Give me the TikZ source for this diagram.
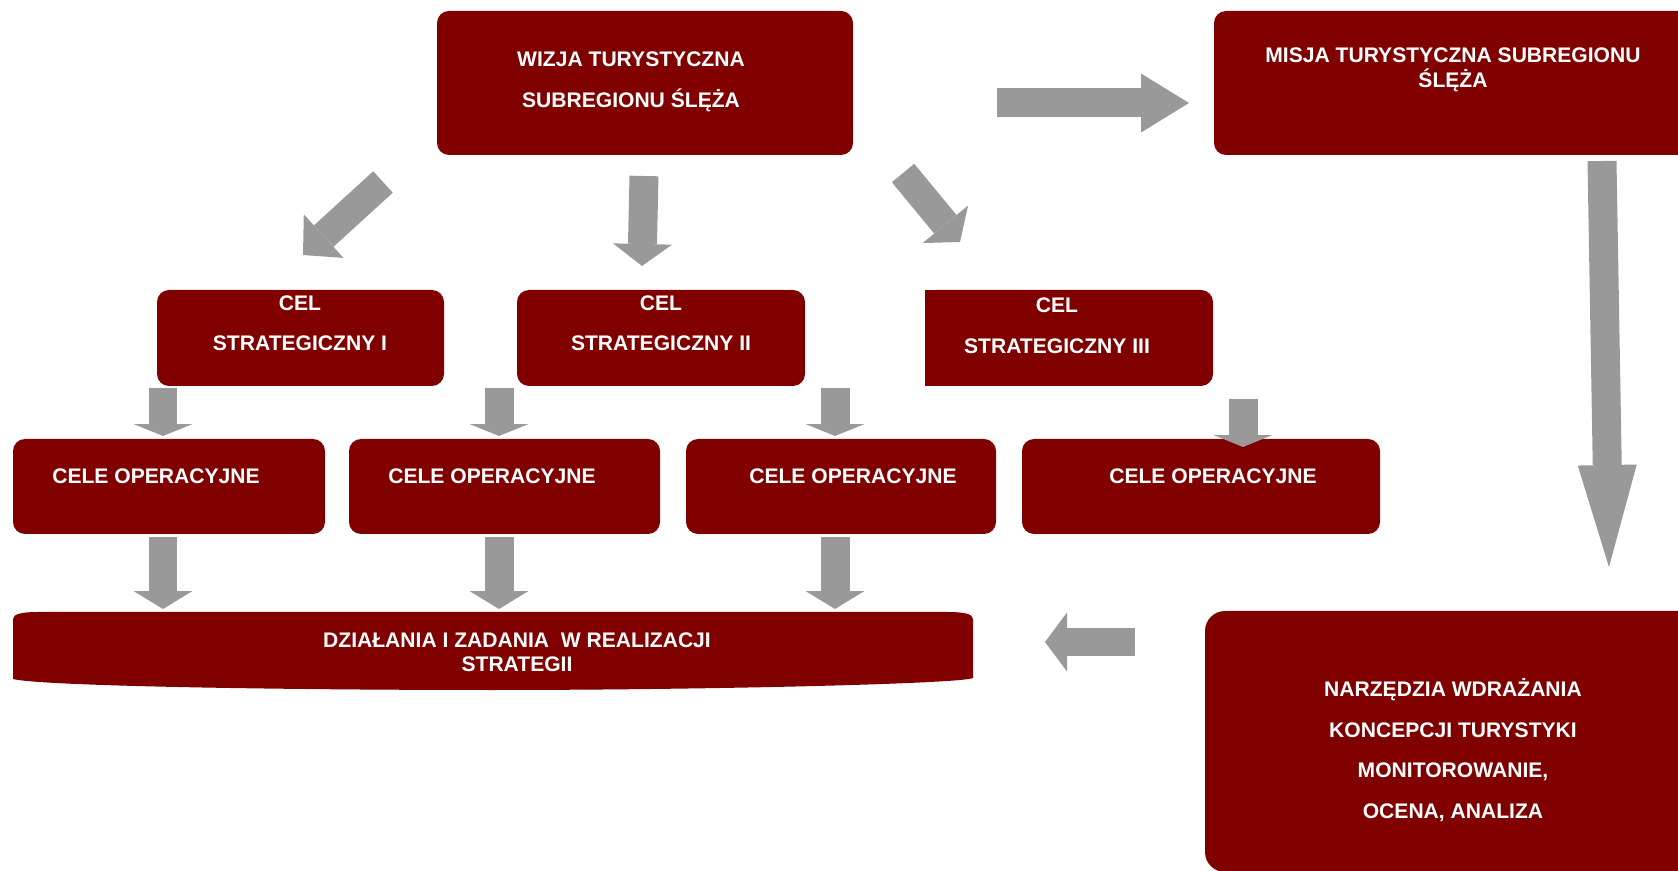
\documentclass[tikz,border=0pt]{standalone}
\usepackage{fontspec}
\setmainfont{Liberation Sans}
\usetikzlibrary{arrows.meta}
\definecolor{boxred}{HTML}{800000}
\definecolor{arrowgray}{HTML}{999999}
\begin{document}
\begin{tikzpicture}[x=0.02cm, y=-0.02cm,
  box/.style={fill=boxred, rounded corners=0.24cm},
  txt/.style={text=white, font=\bfseries\fontsize{12}{#1}\selectfont, align=center, inner sep=0pt},
  txt/.default=14pt,
  blk/.style={arrowgray, line width=0.58cm, -{Triangle[length=#1, width=1.18cm, line width=0pt]}}]
\useasboundingbox (0,0) rectangle (1678,871);
% boxes
\fill[box] (437,11) rectangle (853,155);
\fill[box] (1214,11) rectangle (1720,155);
\fill[box] (157,290) rectangle (444,386);
\fill[box] (517,290) rectangle (805,386);
\fill[box] (925,290) rectangle (1213,386);
\fill[boxred] (925,290) rectangle (1000,386);
\fill[box] (13,439) rectangle (325,534);
\fill[box] (349,439) rectangle (660,534);
\fill[box] (686,439) rectangle (996,534);
\fill[box] (1022,439) rectangle (1380,534);
\fill[boxred] (13,679) -- (13,619) .. controls (13,614) and (22,612) .. (38,612) -- (948,612)
  .. controls (964,612) and (973,614) .. (973,619) -- (973,678)
  .. controls (960,684) and (700,690) .. (493,690) .. controls (280,690) and (40,686) .. (13,679) -- cycle;
\fill[box, rounded corners=0.4cm] (1205,611) rectangle (1720,872);
% texts
\node[txt=23.2pt] (wizja) at (631,82) {WIZJA TURYSTYCZNA\\SUBREGIONU ŚLĘŻA};
\node[txt] (misja) at (1453,70) {MISJA TURYSTYCZNA SUBREGIONU\\ŚLĘŻA};
\node[txt=22.7pt] (cel1) at (300,323) {CEL\\STRATEGICZNY I};
\node[txt=22.7pt] (cel2) at (661,323) {CEL\\STRATEGICZNY II};
\node[txt=23.2pt] (cel3) at (1057,326) {CEL\\STRATEGICZNY III};
\node[txt] (op1) at (156,476) {CELE OPERACYJNE};
\node[txt] (op2) at (492,476) {CELE OPERACYJNE};
\node[txt] (op3) at (853,476) {CELE OPERACYJNE};
\node[txt] (op4) at (1213,476) {CELE OPERACYJNE};
\node[txt=13.6pt] (dzialania) at (517,652) {DZIAŁANIA I ZADANIA\ \ W REALIZACJI\\STRATEGII};
\node[txt=23.2pt] (narz) at (1453,750) {NARZĘDZIA WDRAŻANIA\\KONCEPCJI TURYSTYKI\\MONITOROWANIE,\\OCENA, ANALIZA};
% arrows
\coordinate (ms) at (997,103);  \coordinate (me) at (1189,103);
\coordinate (ls) at (383,182);  \coordinate (le) at (303,255);
\coordinate (cs) at (644,176);  \coordinate (ce) at (642,266);
\coordinate (rs) at (903,173);  \coordinate (re) at (960,242);
\coordinate (ds) at (1602,161); \coordinate (de) at (1609,567);
\coordinate (ns) at (1135,642); \coordinate (ne) at (1045,642);
\draw[blk=0.96cm] (ms) -- (me);
\draw[blk=0.56cm] (ls) -- (le);
\draw[blk=0.44cm] (cs) -- (ce);
\draw[blk=0.46cm] (rs) -- (re);
\draw[blk=2.04cm] (ds) -- (de);
\draw[blk=0.44cm] (ns) -- (ne);
\foreach \x/\n in {163/1, 499/2, 835/3} {
  \coordinate (u\n) at (\x,388); \coordinate (v\n) at (\x,436);
  \coordinate (p\n) at (\x,537); \coordinate (q\n) at (\x,609);
  \draw[blk=0.24cm] (u\n) -- (v\n);
  \draw[blk=0.36cm] (p\n) -- (q\n);
}
\coordinate (u4) at (1243,399); \coordinate (v4) at (1243,447);
\draw[blk=0.24cm] (u4) -- (v4);
\end{tikzpicture}
\end{document}
